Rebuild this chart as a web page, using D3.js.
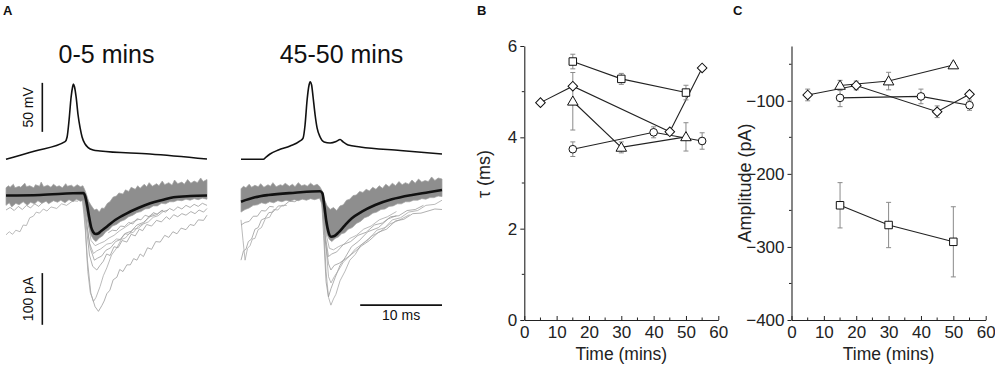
<!DOCTYPE html>
<html>
<head>
<meta charset="utf-8">
<script src="https://cdn.jsdelivr.net/npm/d3@7"></script>
<style>
  body { margin: 0; background: #fff; }
  svg { display: block; font-family: "Liberation Sans", Arial, sans-serif; }
  .axis path, .axis line { stroke: #222; }
  .axis text { font-size: 17px; fill: #222; }
</style>
</head>
<body>
<div id="fig"></div>
<script>
// ---------- Panel A: example traces (time in ms, mV / pA) ----------
const titlesA = ['0-5 mins', '45-50 mins'];

const apEarly = [[0,-70],[3.55,-61.5],[7.22,-52],[7.47,-47.2],[7.71,-29.9],[7.96,-6.4],[8.14,3.8],[8.24,6.8],
  [8.38,3.8],[8.57,-6.4],[8.81,-24.8],[9.06,-38],[9.3,-47.2],[9.67,-54.4],[10.04,-58],[10.65,-60.5],
  [11.5,-61.5],[17.6,-64.6],[24.57,-69.7]];
const apLate = [[0,-70],[2.73,-70],[3.06,-67.7],[3.55,-64.6],[4.57,-60.5],[6.0,-56.4],[7.22,-51.3],[7.59,-48.3],
  [7.83,-35],[8.08,-9.5],[8.32,5.8],[8.45,9.2],[8.63,5.8],[8.81,-6.4],[9.06,-24.8],[9.3,-38],[9.67,-47.2],
  [10.16,-52.3],[10.89,-53.3],[11.63,-51.8],[12.12,-49.8],[12.48,-52.3],[13.1,-55.4],[14.57,-57.4],
  [19.46,-61],[24.57,-64.6]];

const meanEarly = [[0,-2.9],[4.16,-1.9],[9.46,1.9],[9.67,-3.9],[9.91,-21.3],[10.16,-44.5],[10.4,-63.8],
  [10.65,-73.5],[10.95,-77.4],[11.26,-76.4],[11.63,-71.6],[12.32,-63.2],[13.34,-50.3],[14.77,-37.3],
  [16.16,-27.1],[17.63,-18],[19.1,-11.6],[20.48,-6.4],[22.52,-3.9],[24.57,-2.9]];
const meanLate = [[0,-14.9],[1.71,-6.4],[3.34,-1.9],[6.61,2.5],[9.67,5.2],[9.95,1.4],[10.2,-24.6],[10.44,-53.6],
  [10.68,-72.9],[11.0,-82.6],[11.42,-81.2],[11.9,-74.8],[12.73,-60],[13.55,-47],[14.77,-34.2],[16.4,-21.3],
  [18.44,-10.3],[20.9,-1.9],[22.93,3.3],[24.57,7.7]];

// envelope of the dense band of single sweeps
const bandEarlyTop = [[0,12],[0.3,16],[0.5,13],[0.9,19],[1.1,12],[1.6,15],[1.8,13],[2.3,21],[2.5,14],[2.9,16],
  [3.4,12],[3.6,18],[4.1,15],[4.3,23],[4.6,14],[5.1,17],[5.5,13],[5.8,19],[6.2,14],[6.5,16],[6.9,12],[7.3,20],
  [7.5,15],[8.0,17],[8.3,13],[8.7,18],[9.1,14],[9.4,16],[9.6,9],[9.8,1],[10.1,-14],[10.4,-22],[10.8,-31],
  [11.1,-29],[11.4,-35],[11.7,-27],[12.0,-28],[12.4,-18],[12.7,-15],[13.1,-6],[13.5,-4],[13.8,2],[14.3,0],
  [14.6,8],[15.0,5],[15.3,13],[15.8,9],[16.1,16],[16.4,11],[16.9,19],[17.2,14],[17.5,22],[17.9,15],
  [18.4,20],[18.7,16],[19.1,25],[19.4,18],[19.9,22],[20.3,17],[20.6,27],[21.0,20],[21.5,23],[21.8,19],
  [22.2,28],[22.6,21],[23.0,25],[23.4,22],[23.8,31],[24.1,24],[24.57,28]];
const bandEarlyBot = [[0,-22],[0.4,-17],[0.7,-25],[1.2,-18],[1.6,-21],[2.1,-15],[2.6,-22],[3.0,-16],[3.5,-19],
  [3.9,-13],[4.4,-18],[4.9,-14],[5.2,-19],[5.8,-13],[6.3,-16],[6.7,-12],[7.2,-17],[7.7,-11],[8.2,-15],
  [8.6,-10],[9.1,-14],[9.5,-12],[9.8,-35],[10.1,-62],[10.4,-80],[10.7,-88],[11.0,-92],[11.4,-85],[11.8,-81],
  [12.2,-73],[12.6,-69],[13.0,-62],[13.5,-59],[14.0,-53],[14.5,-50],[15.0,-44],[15.5,-41],[16.0,-36],
  [16.5,-34],[17.0,-29],[17.5,-28],[18.0,-23],[18.5,-23],[19.0,-18],[19.5,-19],[20.0,-15],[20.5,-15],
  [21.0,-12],[21.5,-13],[22.0,-10],[22.5,-12],[23.0,-9],[23.5,-11],[24.0,-8],[24.57,-10]];
const bandLateTop = [[0,10],[0.3,15],[0.6,12],[1.0,19],[1.3,13],[1.7,17],[2.1,14],[2.4,20],[2.8,13],[3.3,18],
  [3.6,15],[3.9,22],[4.3,14],[4.8,18],[5.1,16],[5.4,21],[5.9,15],[6.3,19],[6.6,14],[7.0,22],[7.4,16],
  [7.8,18],[8.1,15],[8.5,21],[8.9,16],[9.3,19],[9.6,15],[9.9,7],[10.2,-10],[10.5,-22],[10.9,-30],[11.3,-26],
  [11.7,-32],[12.1,-23],[12.5,-21],[12.9,-12],[13.3,-10],[13.7,-3],[14.1,-2],[14.5,5],[14.9,3],[15.3,9],
  [15.7,6],[16.1,13],[16.5,9],[16.9,16],[17.3,11],[17.7,19],[18.1,14],[18.5,21],[18.9,16],[19.3,24],
  [19.7,18],[20.1,22],[20.5,19],[20.9,27],[21.3,21],[21.7,29],[22.1,23],[22.5,26],[22.9,24],[23.3,33],
  [23.7,26],[24.1,31],[24.57,29]];
const bandLateBot = [[0,-35],[0.5,-30],[1.0,-27],[1.5,-22],[2.0,-21],[2.5,-17],[3.0,-19],[3.5,-15],[4.0,-17],
  [4.5,-13],[5.0,-15],[5.5,-12],[6.0,-14],[6.5,-11],[7.0,-13],[7.5,-10],[8.0,-12],[8.5,-9],[9.0,-11],[9.6,-8],
  [9.9,-20],[10.2,-55],[10.5,-78],[10.8,-88],[11.1,-92],[11.5,-86],[11.9,-83],[12.3,-77],[12.7,-75],
  [13.1,-68],[13.6,-65],[14.1,-57],[14.6,-53],[15.1,-46],[15.6,-43],[16.1,-37],[16.6,-35],[17.1,-30],
  [17.6,-29],[18.1,-24],[18.6,-23],[19.1,-19],[19.6,-19],[20.1,-15],[20.6,-15],[21.1,-12],[21.6,-12],
  [22.1,-9],[22.6,-10],[23.1,-7],[23.6,-7],[24.1,-4],[24.57,-5]];

// sparse outlying sweeps
const sweepsEarly = [
  [[9.3,-5],[9.6,-40],[9.95,-128],[10.37,-192],[10.89,-218],[11.3,-227],[11.71,-216],[12.0,-207],[12.32,-193],
   [12.7,-186],[13.1,-166],[13.55,-161],[13.9,-146],[14.3,-150],[14.77,-137],[15.2,-137],[15.6,-125],[16.0,-128],
   [16.4,-116],[16.8,-121],[17.3,-104],[17.8,-107],[18.3,-92],[18.85,-93],[19.4,-80],[19.9,-84],[20.4,-73],
   [20.9,-77],[21.4,-66],[22.0,-69],[22.5,-59],[23.0,-61],[23.5,-50],[24.15,-51],[24.57,-41]],
  [[9.3,-3],[9.7,-70],[10.0,-150],[10.3,-190],[10.69,-208],[11.0,-200],[11.5,-179],[11.9,-158],[12.32,-143],
   [12.9,-118],[13.55,-104],[14.1,-88],[14.6,-85],[15.1,-76],[15.58,-74],[16.2,-62],[16.8,-57],[17.5,-43],[18.2,-38]],
  [[9.4,-4],[9.8,-60],[10.2,-118],[10.6,-140],[11.1,-147],[11.5,-138],[11.9,-130],[12.3,-116],[12.73,-119],
   [13.2,-102],[13.7,-104],[14.2,-90],[14.77,-93],[15.3,-78],[15.8,-81],[16.3,-68],[16.7,-71],[17.2,-59],
   [17.8,-62],[18.4,-51],[19.0,-54],[19.6,-44],[20.0,-49],[20.5,-40],[21.0,-44],[21.5,-38],[22.0,-41],
   [22.6,-34],[23.1,-38],[23.6,-31],[24.15,-35],[24.57,-28]],
  [[9.4,-4],[9.8,-50],[10.2,-95],[10.69,-115],[11.1,-110],[11.6,-106],[12.32,-97],[12.9,-95],[13.5,-87],
   [13.96,-88],[14.5,-77],[15.0,-78],[15.6,-68],[16.2,-66],[16.8,-58],[17.4,-54],[18.0,-45],[18.6,-42],
   [19.2,-34],[19.8,-31]],
  [[9.5,-4],[9.9,-60],[10.3,-105],[10.8,-128],[11.2,-124],[11.7,-120],[12.2,-109],[12.8,-104],[13.4,-92],
   [14.0,-88],[14.6,-76],[15.3,-72],[16.0,-60],[16.8,-55],[17.6,-44],[18.4,-40],[19.2,-31]],
  [[9.5,-4],[9.9,-45],[10.4,-90],[10.9,-100],[11.4,-96],[12.0,-92],[12.6,-85],[13.2,-80],[13.9,-71],
   [14.6,-64],[15.4,-55],[16.2,-49]],
  [[12.5,-75],[13.0,-70],[13.5,-71],[14.0,-62],[14.5,-63],[15.0,-55],[15.5,-58],[16.0,-48],[16.5,-50],
   [17.0,-41],[17.5,-44],[18.0,-36],[18.5,-39],[19.0,-32],[19.5,-35],[20.0,-28],[20.5,-32],[21.0,-25],
   [21.5,-29],[22.0,-22],[22.5,-26],[23.0,-20],[23.5,-24],[24.0,-18],[24.57,-22]],
  [[0,-79],[0.4,-73],[0.8,-78],[1.2,-70],[1.71,-73],[2.1,-60],[2.5,-61],[2.9,-46],[3.34,-43],[3.7,-35],
   [4.1,-37],[4.57,-29],[5.0,-33],[5.5,-25],[6.2,-28],[6.8,-19],[7.4,-22],[8.2,-13],[8.8,-14]],
  [[0,-31],[0.5,-26],[1.0,-32],[1.5,-24],[2.0,-30],[2.5,-22],[3.0,-27],[3.5,-19],[4.0,-24],[4.5,-16]]
];
const sweepsLate = [
  [[0,-128],[0.3,-110],[0.6,-107],[0.9,-92],[1.3,-87],[1.71,-68],[2.1,-65],[2.5,-50],[2.94,-47],[3.4,-36],
   [3.9,-35],[4.57,-23],[5.2,-23],[5.9,-14],[6.6,-15],[7.3,-7]],
  [[0,-50],[0.25,-90],[0.5,-128],[0.8,-105],[1.1,-100],[1.4,-87],[1.7,-86],[2.1,-69],[2.5,-65],[3.0,-47],
   [3.5,-45],[4.0,-30],[4.5,-31],[5.0,-22],[5.6,-22]],
  [[0,-60],[0.5,-55],[1.0,-53],[1.5,-43],[2.0,-43],[2.5,-32],[3.0,-33],[3.5,-24],[4.0,-25]],
  [[9.8,4],[10.1,-60],[10.4,-150],[10.7,-200],[10.99,-215],[11.3,-203],[11.6,-194],[12.1,-168],[12.73,-149],
   [13.3,-128],[13.96,-117],[14.7,-98],[15.6,-88],[16.6,-70],[17.6,-65],[18.5,-50],[19.5,-46],[20.5,-35],
   [21.6,-32],[22.6,-22],[23.7,-20],[24.57,-12]],
  [[9.8,4],[10.1,-80],[10.4,-170],[10.69,-199],[11.0,-183],[11.5,-162],[12.1,-138],[12.73,-123],[13.5,-102],
   [14.4,-91],[15.5,-73],[16.8,-65],[18.0,-48],[19.0,-42]],
  [[9.9,3],[10.3,-85],[10.7,-160],[11.0,-172],[11.4,-160],[11.9,-148],[12.5,-132],[13.2,-121],[14.0,-106],
   [14.9,-96],[15.9,-82],[17.0,-73],[18.2,-58],[19.4,-50],[20.6,-40]],
  [[9.9,3],[10.3,-90],[10.7,-135],[10.99,-147],[11.4,-138],[12.0,-134],[12.73,-126],[13.5,-117],[14.77,-100],
   [15.7,-90],[16.8,-74],[17.8,-68],[18.9,-52],[19.9,-49],[21.0,-38],[22.0,-37],[23.7,-29],[24.57,-30]],
  [[9.9,3],[10.3,-70],[10.8,-105],[11.3,-108],[11.9,-102],[12.6,-97],[13.3,-86],[14.1,-80],[15.0,-68],
   [15.9,-62],[16.9,-50],[17.9,-44],[19.0,-34]],
  [[9.9,3],[10.3,-80],[10.69,-121],[11.1,-116],[11.7,-112],[12.5,-98],[13.4,-92],[14.3,-80],[15.3,-74],
   [16.3,-60],[17.3,-56],[18.3,-44],[19.3,-42],[20.3,-32],[21.3,-30],[22.3,-22]]
];

// ---------- Panels B and C: summary over time ----------
const timeTicks = [0, 10, 20, 30, 40, 50, 60];

const tauSquareT = [15, 30, 50], tauSquare = [5.66, 5.28, 4.98], tauSquareErr = [0.16, 0.12, 0.16];
const tauDiamondT = [5, 15, 45, 55], tauDiamond = [4.76, 5.12, 4.12, 5.52], tauDiamondErr = [0, 0, 0, 0];
const tauTriangleT = [15, 30, 50], tauTriangle = [4.79, 3.78, 4.01], tauTriangleErr = [0.63, 0.12, 0.31];
const tauCircleT = [15, 40, 55], tauCircle = [3.74, 4.11, 3.92], tauCircleErr = [0.16, 0.12, 0.18];

const ampSquareT = [15, 30, 50], ampSquare = [-243, -270, -293], ampSquareErr = [31, 31, 48];
const ampDiamondT = [5, 20, 45, 55], ampDiamond = [-92, -79, -115, -91], ampDiamondErr = [8, 6, 8, 0];
const ampTriangleT = [15, 30, 50], ampTriangle = [-79, -73, -51], ampTriangleErr = [7, 12, 3];
const ampCircleT = [15, 40, 55], ampCircle = [-96, -94, -106], ampCircleErr = [12, 10, 7];

// ============================================================
const W = 995, H = 371;
const svg = d3.select('#fig').append('svg').attr('width', W).attr('height', H);

function label(x, y, txt, size, weight) {
  svg.append('text').attr('x', x).attr('y', y).attr('font-size', size)
    .attr('font-weight', weight || 'normal').attr('fill', '#111').text(txt);
}
label(3, 15, 'A', 13, 'bold');
label(477, 15, 'B', 13, 'bold');
label(733, 15, 'C', 13, 'bold');

// ---------- Panel A ----------
const yMv = d3.scaleLinear().domain([-70, -20]).range([159.3, 110.3]);
const yPa = d3.scaleLinear().domain([0, -100]).range([194, 245.7]);
const xLeft = d3.scaleLinear().domain([0, 24.57]).range([6, 207]);
const xRight = d3.scaleLinear().domain([0, 24.57]).range([241, 442]);

const traceSets = [
  { x: xLeft, ap: apEarly, mean: meanEarly, top: bandEarlyTop, bot: bandEarlyBot, sweeps: sweepsEarly, title: titlesA[0] },
  { x: xRight, ap: apLate, mean: meanLate, top: bandLateTop, bot: bandLateBot, sweeps: sweepsLate, title: titlesA[1] }
];

traceSets.forEach(s => {
  const g = svg.append('g');
  const mid = (s.x.range()[0] + s.x.range()[1]) / 2;
  g.append('text').attr('x', mid).attr('y', 63).attr('text-anchor', 'middle')
    .attr('font-size', 25).attr('fill', '#111').text(s.title);

  const apLine = d3.line().x(d => s.x(d[0])).y(d => yMv(d[1])).curve(d3.curveMonotoneX);
  g.append('path').attr('d', apLine(s.ap)).attr('fill', 'none').attr('stroke', '#111').attr('stroke-width', 1.6);

  const pa = d3.line().x(d => s.x(d[0])).y(d => yPa(d[1]));
  s.sweeps.forEach((sw, i) => {
    g.append('path').attr('d', pa(sw)).attr('fill', 'none')
      .attr('stroke', i % 2 ? '#a8a8a8' : '#9c9c9c').attr('stroke-width', 0.8);
  });

  // dense band: top edge forward, bottom edge reversed
  const poly = s.top.map(d => [s.x(d[0]), yPa(d[1])])
    .concat(s.bot.slice().reverse().map(d => [s.x(d[0]), yPa(d[1])]));
  g.append('path').attr('d', 'M' + poly.join('L') + 'Z')
    .attr('fill', '#8e8e8e').attr('stroke', '#a0a0a0').attr('stroke-width', 0.7);

  g.append('path').attr('d', pa.curve(d3.curveMonotoneX)(s.mean)).attr('fill', 'none')
    .attr('stroke', '#111').attr('stroke-width', 2.6);
});

// scale bars
svg.append('line').attr('x1', xLeft(4.44)).attr('x2', xLeft(4.44)).attr('y1', yMv(8)).attr('y2', yMv(-42))
  .attr('stroke', '#111').attr('stroke-width', 1.6);
svg.append('text').attr('transform', `translate(33,${(yMv(8) + yMv(-42)) / 2}) rotate(-90)`)
  .attr('text-anchor', 'middle').attr('font-size', 14).attr('fill', '#111').text('50 mV');
svg.append('line').attr('x1', xLeft(4.44)).attr('x2', xLeft(4.44)).attr('y1', yPa(-153)).attr('y2', yPa(-253))
  .attr('stroke', '#111').attr('stroke-width', 1.6);
svg.append('text').attr('transform', `translate(33,${(yPa(-153) + yPa(-253)) / 2}) rotate(-90)`)
  .attr('text-anchor', 'middle').attr('font-size', 14).attr('fill', '#111').text('100 pA');
svg.append('line').attr('x1', xRight(14.57)).attr('x2', xRight(24.57)).attr('y1', yPa(-215)).attr('y2', yPa(-215))
  .attr('stroke', '#111').attr('stroke-width', 1.6);
svg.append('text').attr('x', (xRight(14.57) + xRight(24.57)) / 2).attr('y', 320).attr('text-anchor', 'middle')
  .attr('font-size', 14).attr('fill', '#111').text('10 ms');

// ---------- Panels B, C ----------
const markers = {
  square: d3.symbol().type(d3.symbolSquare).size(56),
  diamond: d3.symbol().type(d3.symbolSquare).size(46),
  triangle: d3.symbol().type(d3.symbolTriangle).size(48),
  circle: d3.symbol().type(d3.symbolCircle).size(46)
};

function panel(opts) {
  const x = d3.scaleLinear().domain([0, 60]).range(opts.xr);
  const y = d3.scaleLinear().domain(opts.yd).range([320, 46]);
  const g = svg.append('g');

  // minor ticks
  g.selectAll('.mx').data(opts.xMinor).join('line')
    .attr('x1', d => x(d)).attr('x2', d => x(d)).attr('y1', 320).attr('y2', 317.5).attr('stroke', '#222');
  g.selectAll('.my').data(opts.yMinor).join('line')
    .attr('x1', opts.xr[0]).attr('x2', opts.xr[0] - 2.5).attr('y1', d => y(d)).attr('y2', d => y(d)).attr('stroke', '#222');

  g.append('g').attr('class', 'axis').attr('transform', 'translate(0,320)')
    .call(d3.axisBottom(x).tickValues(timeTicks).tickSize(-4).tickSizeOuter(0).tickPadding(6));
  g.append('g').attr('class', 'axis').attr('transform', `translate(${opts.xr[0]},0)`)
    .call(d3.axisLeft(y).tickValues(opts.yTicks).tickFormat(d3.format('d')).tickSize(4).tickSizeOuter(0).tickPadding(3));
  g.selectAll('.axis .domain').attr('stroke-width', 1.1);

  g.append('text').attr('x', (opts.xr[0] + opts.xr[1]) / 2).attr('y', 360).attr('text-anchor', 'middle')
    .attr('font-size', 17.5).attr('fill', '#222').text('Time (mins)');
  g.append('text').attr('transform', `translate(${opts.ylx},${opts.yly}) rotate(-90)`)
    .attr('text-anchor', 'middle').attr('font-size', 18).attr('fill', '#222').text(opts.ylabel);

  const line = d3.line().x(d => x(d.t)).y(d => y(d.v));
  opts.series.forEach(s => {
    const pts = s.t.map((t, i) => ({ t, v: s.v[i], e: s.e[i] }));
    g.append('path').attr('d', line(pts)).attr('fill', 'none').attr('stroke', '#222').attr('stroke-width', 1.1);
    s.pts = pts;
  });
  opts.series.forEach(s => {
    s.pts.filter(p => p.e > 0).forEach(p => {
      const eb = g.append('g').attr('stroke', '#8a8a8a').attr('stroke-width', 1);
      eb.append('line').attr('x1', x(p.t)).attr('x2', x(p.t)).attr('y1', y(p.v - p.e)).attr('y2', y(p.v + p.e));
      [p.v - p.e, p.v + p.e].forEach(v => eb.append('line')
        .attr('x1', x(p.t) - 2.5).attr('x2', x(p.t) + 2.5).attr('y1', y(v)).attr('y2', y(v)));
    });
  });
  opts.series.forEach(s => {
    g.selectAll(null).data(s.pts).join('path')
      .attr('d', markers[s.shape]())
      .attr('transform', d => `translate(${x(d.t)},${y(d.v)})` + (s.shape === 'diamond' ? ' rotate(45)' : '') +
        (s.shape === 'triangle' ? ' translate(0,0.8)' : ''))
      .attr('fill', '#fff').attr('stroke', '#111').attr('stroke-width', 1);
  });
}

const minorTimes = [5, 15, 25, 35, 45, 55];

panel({
  xr: [524.3, 718.3], yd: [0, 6], yTicks: [0, 2, 4, 6], yMinor: [1, 3, 5], xMinor: minorTimes,
  ylabel: 'τ  (ms)', ylx: 490, yly: 174,
  series: [
    { shape: 'square', t: tauSquareT, v: tauSquare, e: tauSquareErr },
    { shape: 'diamond', t: tauDiamondT, v: tauDiamond, e: tauDiamondErr },
    { shape: 'triangle', t: tauTriangleT, v: tauTriangle, e: tauTriangleErr },
    { shape: 'circle', t: tauCircleT, v: tauCircle, e: tauCircleErr }
  ]
});

panel({
  xr: [791.5, 985.7], yd: [-400, -25], yTicks: [-400, -300, -200, -100], yMinor: [-350, -250, -150, -50], xMinor: minorTimes,
  ylabel: 'Amplitude (pA)', ylx: 751, yly: 183,
  series: [
    { shape: 'square', t: ampSquareT, v: ampSquare, e: ampSquareErr },
    { shape: 'diamond', t: ampDiamondT, v: ampDiamond, e: ampDiamondErr },
    { shape: 'triangle', t: ampTriangleT, v: ampTriangle, e: ampTriangleErr },
    { shape: 'circle', t: ampCircleT, v: ampCircle, e: ampCircleErr }
  ]
});
</script>
</body>
</html>
